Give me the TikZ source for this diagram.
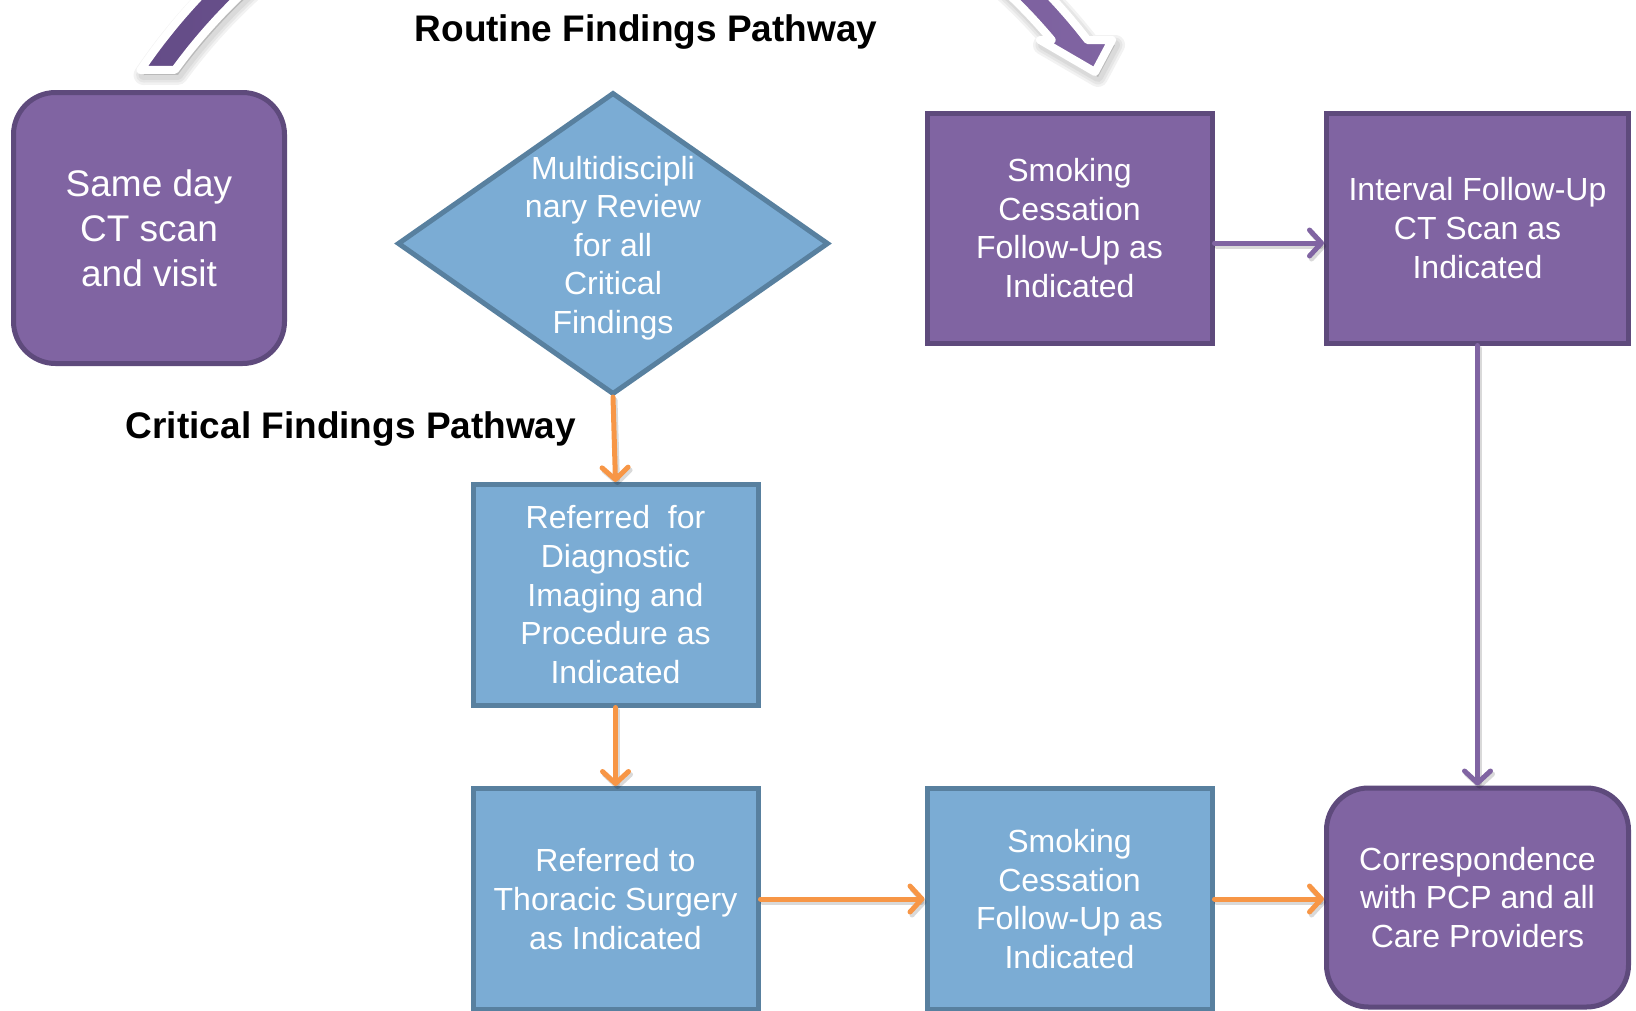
\documentclass[tikz,border=0pt]{standalone}
\usepackage{fontspec}
\setmainfont{Liberation Sans}
\usetikzlibrary{shapes.geometric,arrows.meta}

\definecolor{purpleFill}{HTML}{8064A2}
\definecolor{purpleEdge}{HTML}{5E4A7C}
\definecolor{blueFill}{HTML}{7BACD4}
\definecolor{blueEdge}{HTML}{58809F}
\definecolor{orangeLine}{HTML}{F79646}
\definecolor{arcDark}{HTML}{644C87}
\definecolor{arcLight}{HTML}{8064A2}

% outline of the large curved arrow over the top of the chart
\newcommand\routinearcpath{(140.6,70) arc[start angle=-145.9, end angle=-37.7, radius=585]
  -- (1112,40) -- (1095,72) -- (1040,40) -- (1051.7,40)
  arc[start angle=-40.0, end angle=-143.9, radius=557] -- cycle}

\begin{document}
\begin{tikzpicture}[x=1pt,y=-1pt,
  boxtext/.style={text=white, align=center, font=\fontsize{32}{38.6}\selectfont, inner sep=0pt},
  bluebox/.style={boxtext, rectangle, draw=blueEdge, fill=blueFill, line width=5pt},
  purplebox/.style={boxtext, rectangle, draw=purpleEdge, fill=purpleFill, line width=5pt},
  roundbox/.style={purplebox, rounded corners=42pt},
  diamondbox/.style={diamond, draw=blueEdge, fill=blueFill, line width=5pt, inner sep=0pt},
  title/.style={font=\fontsize{37}{44}\selectfont\bfseries, text=black, inner sep=0pt, anchor=base},
  link/.style={line width=5pt, line cap=round, -{Straight Barb[length=12pt, width=26pt, round]}},
  linkshade/.style={link, draw=black, draw opacity=0.15, transform canvas={shift={(2pt,-3pt)}}},
  arcshade/.style={draw=black, fill=black, line width=#1, draw opacity=0.05, fill opacity=0.05,
    line join=round, transform canvas={shift={(3pt,-5pt)}}},
  arcshape/.style={draw=white, line width=8pt, line join=round, left color=arcDark, right color=arcLight}
]
\useasboundingbox (0,0) rectangle (1636,1010);
\clip (0,0) rectangle (1636,1010);

% curved arrow with soft shadow and white rim
\foreach \w in {20pt,15pt,10pt}{
  \path[arcshade=\w] \routinearcpath;
}
\path[arcshape] \routinearcpath;

% titles
\node[title] (routine) at (646,41) {Routine Findings Pathway};
\node[title] (critical) at (351,438) {Critical Findings Pathway};

% boxes
\node[roundbox, font=\fontsize{37}{45}\selectfont, minimum width=271pt, minimum height=271pt]
  (same) at (149,228) {Same day\\CT scan\\and visit};
\node[diamondbox, minimum width=431pt, minimum height=302pt] (dia) at (613,243.5) {};
\node[boxtext] (diatext) at (613,248) {Multidiscipli\\nary Review\\for all\\Critical\\Findings};
\node[purplebox, minimum width=285pt, minimum height=230pt]
  (smt) at (1069.5,228) {Smoking\\Cessation\\Follow-Up as\\Indicated};
\node[purplebox, minimum width=302pt, minimum height=230pt]
  (int) at (1477.5,228) {Interval Follow-Up\\CT Scan as\\Indicated};
\node[bluebox, minimum width=285pt, minimum height=220.5pt]
  (ref) at (615.5,594.75) {Referred\ \ for\\Diagnostic\\Imaging and\\Procedure as\\Indicated};
\node[bluebox, minimum width=285pt, minimum height=221pt]
  (thor) at (615.5,899) {Referred to\\Thoracic Surgery\\as Indicated};
\node[bluebox, minimum width=285pt, minimum height=221pt]
  (smb) at (1069.5,899) {Smoking\\Cessation\\Follow-Up as\\Indicated};
\node[roundbox, minimum width=302pt, minimum height=219pt]
  (corr) at (1477.5,897.5) {Correspondence\\with PCP and all\\Care Providers};

% connectors
\coordinate (smtout) at ([yshift=-15pt]smt.east);
\coordinate (intin) at ([yshift=-15pt]int.west);
\coordinate (corrin) at (corr.west |- smb.east);
\foreach \a/\b/\c in {dia.south/ref.north/orangeLine, ref.south/thor.north/orangeLine,
    thor.east/smb.west/orangeLine, smb.east/corrin/orangeLine,
    smtout/intin/purpleFill, int.south/corr.north/purpleFill}{
  \draw[linkshade] (\a) -- (\b);
  \draw[link, draw=\c] (\a) -- (\b);
}
\end{tikzpicture}
\end{document}
